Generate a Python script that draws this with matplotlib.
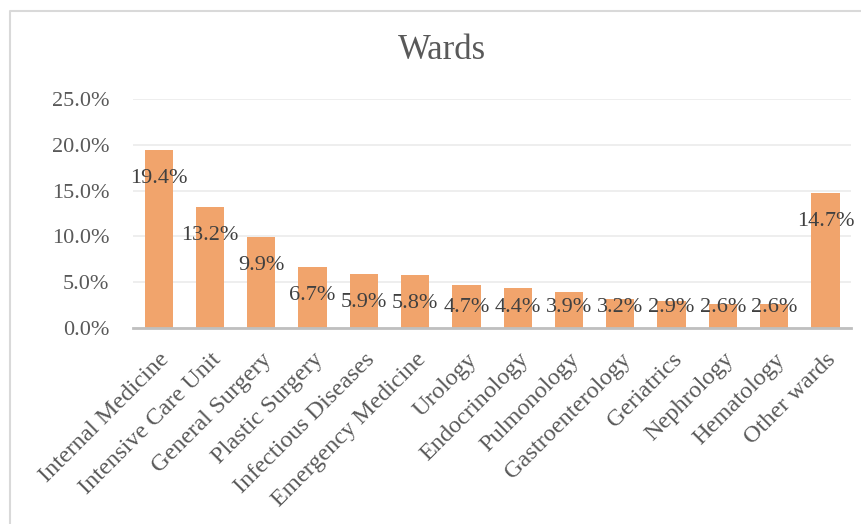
import matplotlib
matplotlib.use('Agg')
import matplotlib.pyplot as plt
import matplotlib.transforms as mtransforms
from matplotlib.lines import Line2D
from matplotlib.ticker import FuncFormatter

wards = ['Internal Medicine', 'Intensive Care Unit', 'General Surgery', 'Plastic Surgery',
         'Infectious Diseases', 'Emergency Medicine', 'Urology', 'Endocrinology',
         'Pulmonology', 'Gastroenterology', 'Geriatrics', 'Nephrology', 'Hematology',
         'Other wards']
shares = [19.4, 13.2, 9.9, 6.7, 5.9, 5.8, 4.7, 4.4, 3.9, 3.2, 2.9, 2.6, 2.6, 14.7]
y_ticks = [0, 5, 10, 15, 20, 25]

plt.rcParams['font.family'] = ['Liberation Serif', 'DejaVu Serif']

fig = plt.figure(figsize=(8.61, 5.24), dpi=100)
ax = fig.add_axes([0.1545, 0.374, 0.834, 0.437])

x = range(len(wards))
ax.bar(x, shares, width=0.55, color='#F1A46C', zorder=2)

for i, v in zip(x, shares):
    ax.text(i, max(v - 3.1, 2.2), f'{v:.1f}%', ha='center', va='center',
            fontsize=16, color='#404040', zorder=3)

ax.set_xlim(-0.5, len(wards) - 0.5)
ax.set_ylim(0, 25)
ax.set_yticks(y_ticks)
ax.yaxis.set_major_formatter(FuncFormatter(lambda v, _: f'{v:.1f}%'))
ax.grid(axis='y', color='#EBEBEB', linewidth=1.2, zorder=0)
ax.set_xticks(list(x))
ax.set_xticklabels(wards, rotation=45, ha='right', rotation_mode='anchor', fontsize=17.5)

# nudge the slanted category labels a little left
shift = mtransforms.ScaledTranslation(-5 / 100, -2 / 100, fig.dpi_scale_trans)
for lbl in ax.get_xticklabels():
    lbl.set_transform(lbl.get_transform() + shift)

for side in ['top', 'right', 'left']:
    ax.spines[side].set_visible(False)
ax.spines['bottom'].set_color('#BFBFBF')
ax.spines['bottom'].set_linewidth(2)
ax.spines['bottom'].set_zorder(4)
ax.tick_params(axis='both', length=0, labelcolor='#595959')
ax.tick_params(axis='y', pad=17, labelsize=16)
ax.tick_params(axis='x', pad=15)

fig.text(0.513, 0.903, 'Wards', ha='center', va='center', fontsize=25, color='#595959')

# outer chart frame (only left and top edges fall inside the canvas)
frame_x = [10 / 861, 10 / 861, 1.01]
frame_y = [-0.01, 1 - 11 / 524, 1 - 11 / 524]
fig.add_artist(Line2D(frame_x, frame_y, transform=fig.transFigure, color='#D9D9D9', linewidth=1.5))

fig.savefig('out.png', dpi=100)
